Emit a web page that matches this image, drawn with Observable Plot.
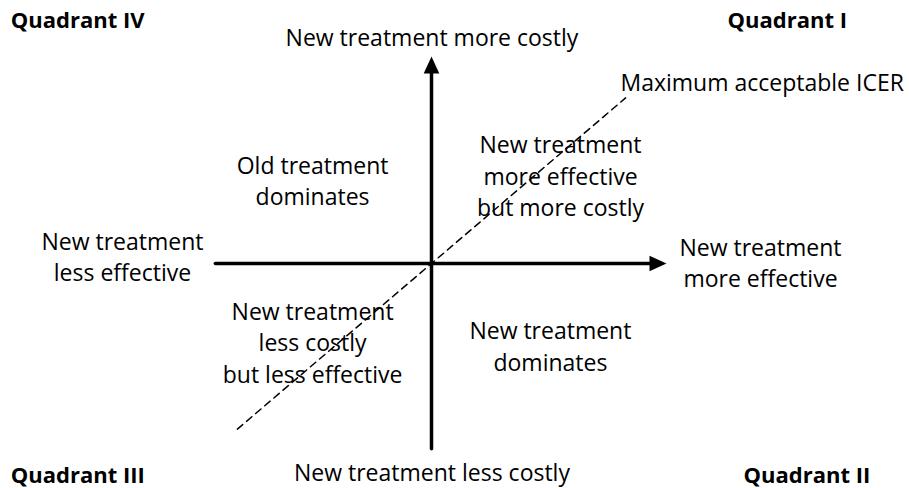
<!DOCTYPE html>
<html>
<head>
<meta charset="utf-8">
<script src="https://cdn.jsdelivr.net/npm/d3@7"></script>
<script src="https://cdn.jsdelivr.net/npm/@observablehq/plot@0.6"></script>
<style>
  html, body { margin: 0; padding: 0; background: #fff; }
  #chart svg { display: block; }
</style>
</head>
<body>
<div id="chart"></div>
<script>
// Conceptual cost-effectiveness plane: x = effect difference, y = cost difference
const xAxisLine = [{x: -0.92, y: 0}, {x: 0.95, y: 0}];
const yAxisLine = [{x: 0, y: -0.895}, {x: 0, y: 0.95}];
const arrowTips = [{x: 1, y: 0, rot: 90}, {x: 0, y: 1, rot: 0}];
const icerLine = [{x: -0.826, y: -0.80}, {x: 0.826, y: 0.80}];

const quadrantLabels = [
  {x: -1.79, y: 1.174, text: "Quadrant IV"},
  {x: 1.26, y: 1.174, text: "Quadrant I"},
  {x: -1.79, y: -1.024, text: "Quadrant III"},
  {x: 1.328, y: -1.024, text: "Quadrant II"}
];

const axisLabels = [
  {x: 0.002, y: 1.10, text: "New treatment more costly"},
  {x: 0.002, y: -1.0, text: "New treatment less costly"},
  {x: -1.315, y: 0.04, text: "New treatment\nless effective"},
  {x: 1.40, y: 0.01, text: "New treatment\nmore effective"}
];

const icerLabel = [{x: 0.804, y: 0.867, text: "Maximum acceptable ICER"}];

const regionLabels = [
  {x: -0.506, y: 0.405, text: "Old treatment\ndominates"},
  {x: 0.549, y: 0.43, text: "New treatment\nmore effective\nbut more costly"},
  {x: -0.506, y: -0.376, text: "New treatment\nless costly\nbut less effective"},
  {x: 0.506, y: -0.393, text: "New treatment\ndominates"}
];

const arrowHead = {
  draw(context, size) {
    context.moveTo(0, 0);
    context.lineTo(-7.8, 17);
    context.lineTo(7.8, 17);
    context.closePath();
  }
};

const font = "'Open Sans', 'Noto Sans', sans-serif";

const chart = Plot.plot({
  width: 909,
  height: 488,
  marginLeft: 196,
  marginRight: 243,
  marginTop: 56,
  marginBottom: 18,
  x: {domain: [-1, 1], axis: null},
  y: {domain: [-1, 1], axis: null},
  style: {fontFamily: font, background: "#fff", color: "#000"},
  marks: [
    Plot.line(icerLine, {x: "x", y: "y", stroke: "#000", strokeWidth: 1.5, strokeDasharray: "7,5"}),
    Plot.line(xAxisLine, {x: "x", y: "y", stroke: "#000", strokeWidth: 3.5}),
    Plot.line(yAxisLine, {x: "x", y: "y", stroke: "#000", strokeWidth: 3.5}),
    Plot.dot(arrowTips, {x: "x", y: "y", rotate: "rot", symbol: arrowHead, fill: "#000", stroke: null, r: 5}),
    Plot.text(regionLabels, {x: "x", y: "y", text: "text", fontSize: 23, lineHeight: 1.37, textAnchor: "middle", fill: "#000"}),
    Plot.text(axisLabels, {x: "x", y: "y", text: "text", fontSize: 23, lineHeight: 1.37, textAnchor: "middle", fill: "#000"}),
    Plot.text(icerLabel, {x: "x", y: "y", text: "text", fontSize: 23, textAnchor: "start", fill: "#000"}),
    Plot.text(quadrantLabels, {x: "x", y: "y", text: "text", fontSize: 22, fontWeight: "bold", textAnchor: "start", fill: "#000"})
  ]
});
document.getElementById("chart").appendChild(chart);
</script>
</body>
</html>
